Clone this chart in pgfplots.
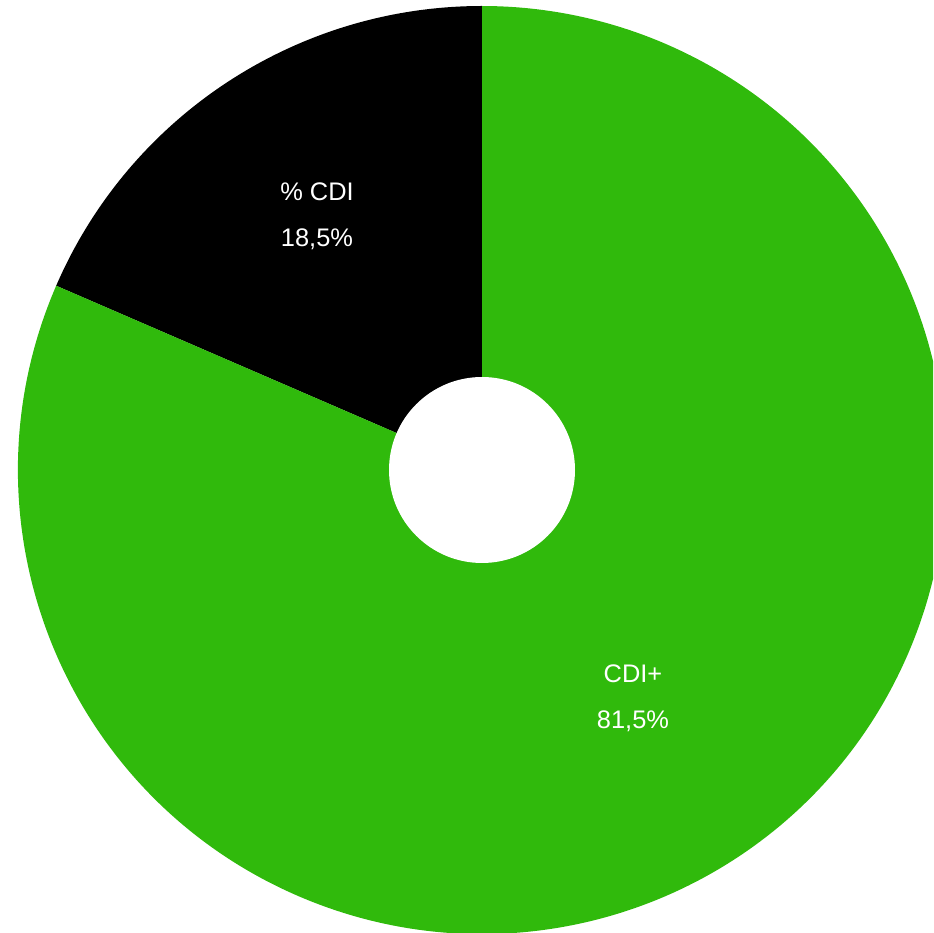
\documentclass[border=0pt]{standalone}
\usepackage{fontspec}
\setmainfont{Liberation Sans}
\usepackage{pgfplots}
\usepackage{pgfplotstable}
\pgfplotsset{compat=1.18}
\definecolor{cdigreen}{RGB}{48,186,12}
\pgfplotstableread{
label value
CDI 18.5
CDIplus 81.5
}\piedata
\begin{document}
\begin{tikzpicture}
\pgfplotstablegetelem{0}{value}\of\piedata \let\valA\pgfplotsretval
\pgfplotstablegetelem{1}{value}\of\piedata \let\valB\pgfplotsretval
\pgfmathsetmacro{\angA}{90+3.6*\valA}
\pgfmathsetmacro{\angB}{\angA+3.6*\valB}
\begin{axis}[
  scale only axis, width=466.5pt, height=466.5pt,
  xmin=0, xmax=933, ymin=0, ymax=933,
  hide axis, clip=true,
]
\addplot[draw=none] coordinates {(0,0) (933,933)};
\fill[black] (axis cs:482,463) -- ++(90:232pt) arc[start angle=90, end angle=\angA, radius=232pt] -- cycle;
\fill[cdigreen] (axis cs:482,463) -- ++(\angA:232pt) arc[start angle=\angA, end angle=\angB, radius=232pt] -- cycle;
\fill[white] (axis cs:482,463) circle[radius=46.5pt];
\node[text=white, align=center, font=\fontsize{12.7}{23}\selectfont] at (axis cs:317,717) {\% CDI\\18,5\%};
\node[text=white, align=center, font=\fontsize{12.7}{23}\selectfont] at (axis cs:633,234.5) {CDI+\\81,5\%};
\end{axis}
\pgfresetboundingbox
\path (current axis.south west) rectangle (current axis.north east);
\end{tikzpicture}
\end{document}
